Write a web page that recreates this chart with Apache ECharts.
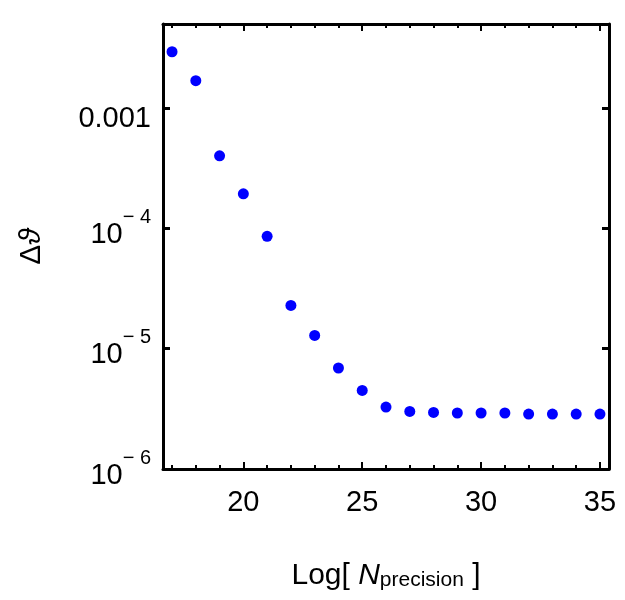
<!DOCTYPE html>
<html>
<head>
<meta charset="utf-8">
<script src="https://cdn.jsdelivr.net/npm/echarts@6/dist/echarts.min.js"></script>
<style>
html,body{margin:0;padding:0;background:#fff;}
#chart{width:625px;height:600px;}
</style>
</head>
<body>
<div id="chart"></div>
<script>
// Data
var logN = [17, 18, 19, 20, 21, 22, 23, 24, 25, 26, 27, 28, 29, 30, 31, 32, 33, 34, 35];
var deltaTheta = [2.94e-3, 1.69e-3, 4.01e-4, 1.94e-4, 8.59e-5, 2.29e-5, 1.29e-5, 6.91e-6, 4.50e-6,
                  3.27e-6, 3.01e-6, 2.95e-6, 2.92e-6, 2.92e-6, 2.92e-6, 2.86e-6, 2.86e-6, 2.86e-6, 2.86e-6];
var xTickLabels = ['20', '25', '30', '35'];
var yTickLabels = {'-3': '0.001', '-4': '10{e|\u2212 4}', '-5': '10{e|\u2212 5}', '-6': '10{e|\u2212 6}'};

var xMin = 16.62, xMax = 35.38;
var yMin = 1e-6, yMax = 0.005;

var FONT = 'Liberation Sans';
var lineStyle = {color: '#000', width: 3};

var chart = echarts.init(document.getElementById('chart'), null, {renderer: 'canvas'});

function yLabel(v) {
  var e = Math.round(Math.log10(v));
  var key = String(e);
  if (Math.abs(Math.log10(v) - e) > 1e-6) return '';
  var s = yTickLabels[key];
  if (!s) return '';
  if (key === '-3') return '{n|' + s + '}';
  return '{b|' + s.replace('{e|', '}{e|');
}

var option = {
  animation: false,
  backgroundColor: '#fff',
  grid: {left: 163, right: 16, top: 24, bottom: 131, containLabel: false},
  xAxis: [{
    type: 'value', position: 'bottom', min: xMin, max: xMax, splitNumber: 4,
    axisLine: {show: true, onZero: false, lineStyle: lineStyle},
    axisTick: {show: true, inside: true, length: 7, lineStyle: {color: '#000', width: 2}},
    minorTick: {show: true, splitNumber: 5, length: 4, lineStyle: {color: '#000', width: 2}},
    splitLine: {show: false},
    axisLabel: {
      show: true, margin: 19, showMinLabel: false, showMaxLabel: true,
      fontFamily: FONT, fontSize: 29, color: '#000',
      formatter: function (v) {
        var s = String(Math.round(v));
        return (Math.abs(v - Math.round(v)) < 1e-6 && xTickLabels.indexOf(s) >= 0) ? s : '';
      }
    },
    name: '{r|Log[ }{i|N}{s|precision}{r| ]}',
    nameLocation: 'middle', nameGap: 80,
    nameTextStyle: {
      color: '#000',
      rich: {
        r: {fontFamily: FONT, fontSize: 30, color: '#000', verticalAlign: 'bottom', lineHeight: 42},
        i: {fontFamily: FONT, fontSize: 30, fontStyle: 'italic', color: '#000', verticalAlign: 'bottom', lineHeight: 42},
        s: {fontFamily: FONT, fontSize: 21, color: '#000', verticalAlign: 'bottom', lineHeight: 30}
      }
    }
  }, {
    type: 'value', position: 'top', min: xMin, max: xMax, splitNumber: 4,
    axisLine: {show: true, onZero: false, lineStyle: lineStyle},
    axisTick: {show: true, inside: true, length: 7, lineStyle: {color: '#000', width: 2}},
    minorTick: {show: true, splitNumber: 5, length: 4, lineStyle: {color: '#000', width: 2}},
    splitLine: {show: false},
    axisLabel: {show: false}
  }],
  yAxis: [{
    type: 'log', logBase: 10, position: 'left', min: yMin, max: yMax,
    axisLine: {show: true, onZero: false, lineStyle: lineStyle},
    axisTick: {show: true, inside: true, length: 7, lineStyle: {color: '#000', width: 3}},
    minorTick: {show: false},
    splitLine: {show: false},
    axisLabel: {
      show: true, margin: 12, showMaxLabel: false,
      color: '#000',
      formatter: yLabel,
      rich: {
        n: {fontFamily: FONT, fontSize: 29, color: '#000', padding: [22, 0, 0, 0]},
        b: {fontFamily: FONT, fontSize: 29, color: '#000', verticalAlign: 'bottom', lineHeight: 42},
        e: {fontFamily: FONT, fontSize: 20, color: '#000', verticalAlign: 'top', lineHeight: 40}
      }
    },
    name: '{d|\u0394}{t|\u03D1}',
    nameLocation: 'middle', nameGap: 116, nameRotate: 90,
    nameTextStyle: {
      rich: {
        d: {fontFamily: FONT, fontSize: 30, color: '#000'},
        t: {fontFamily: FONT, fontSize: 30, fontStyle: 'italic', color: '#000'}
      }
    }
  }, {
    type: 'log', logBase: 10, position: 'right', min: yMin, max: yMax,
    axisLine: {show: true, onZero: false, lineStyle: lineStyle},
    axisTick: {show: true, inside: true, length: 7, lineStyle: {color: '#000', width: 3}},
    minorTick: {show: false},
    splitLine: {show: false},
    axisLabel: {show: false}
  }],
  series: [{
    type: 'scatter',
    xAxisIndex: 0, yAxisIndex: 0,
    data: logN.map(function (x, i) { return [x, deltaTheta[i]]; }),
    symbol: 'circle', symbolSize: 11,
    itemStyle: {color: '#0000ff', opacity: 1},
    emphasis: {disabled: true}
  }]
};
chart.setOption(option);
</script>
</body>
</html>
